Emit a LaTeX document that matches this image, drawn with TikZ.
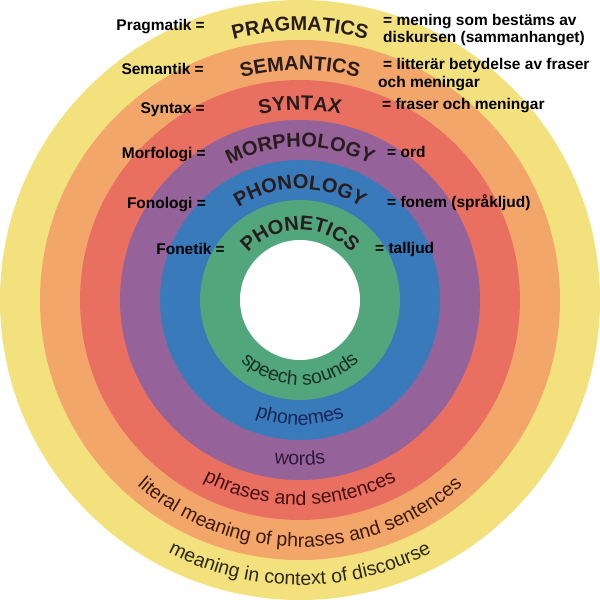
\documentclass[tikz,border=0pt]{standalone}
\usepackage{fontspec}
\setmainfont{Liberation Sans}
\usetikzlibrary{decorations.text}
\definecolor{cyel}{RGB}{242,225,125}
\definecolor{cora}{RGB}{242,166,106}
\definecolor{cred}{RGB}{233,112,96}
\definecolor{cpur}{RGB}{149,99,153}
\definecolor{cblu}{RGB}{57,122,186}
\definecolor{cgre}{RGB}{82,166,124}
\definecolor{ctitle}{RGB}{40,28,30}
\definecolor{tgre}{RGB}{25,50,35}
\definecolor{tblu}{RGB}{25,38,85}
\definecolor{tpur}{RGB}{45,24,56}
\definecolor{tred}{RGB}{70,14,16}
\definecolor{tora}{RGB}{60,26,12}
\definecolor{tyel}{RGB}{46,40,24}
\newcommand\myTopArc[2]{%
  \path[decorate, decoration={text along path, text align=center,
    text color=ctitle,
    text={|\fontsize{20}{20}\selectfont\bfseries|#2}}]
    (160:#1) arc (160:20:#1);}
\newcommand\myBotArc[3]{%
  \path[decorate, decoration={text along path, text align=center,
    text color=#3,
    text={|\fontsize{19.5}{19.5}\selectfont|#2}}]
    (200:#1) arc (200:340:#1);}
\begin{document}
\begin{tikzpicture}[x=1pt,y=1pt,
  lbl/.style={font=\fontsize{15.5}{17.4}\selectfont\bfseries, inner sep=0pt, text=black},
  lleft/.style={lbl, anchor=base east},
  lright/.style={lbl, anchor=base west}]
\useasboundingbox (-300,-300) rectangle (300,300);
% rings
\fill[cyel] (0,0) circle (300);
\fill[cora] (0,0) circle (260);
\fill[cred] (0,0) circle (220);
\fill[cpur] (0,0) circle (180);
\fill[cblu] (0,0) circle (140);
\fill[cgre] (0,0) circle (100);
\fill[white] (0,0) circle (60);
% ring titles
\myTopArc{269}{PRAGMATICS}
\myTopArc{230}{SEMANTICS}
\myTopArc{190}{SYNTAX}
\myTopArc{153}{MORPHOLOGY}
\myTopArc{111}{PHONOLOGY}
\myTopArc{70}{PHONETICS}
% bottom labels
\myBotArc{85}{speech sounds}{tgre}
\myBotArc{125}{phonemes}{tblu}
\myBotArc{165}{words}{tpur}
\myBotArc{205}{phrases and sentences}{tred}
\myBotArc{247}{literal meaning of phrases and sentences}{tora}
\myBotArc{285}{meaning in context of discourse}{tyel}
% left labels
\node[lleft] (lpr) at (-95,269.3) {Pragmatik =};
\node[lleft] (lse) at (-96,225) {Semantik =};
\node[lleft] (lsy) at (-95,186) {Syntax =};
\node[lleft] (lmo) at (-94,141.7) {Morfologi =};
\node[lleft] (lfo) at (-94,91.7) {Fonologi =};
\node[lleft] (lft) at (-75,45.7) {Fonetik =};
% right labels
\node[lright] (rpr1) at (83,274.7) {= mening som bestäms av};
\node[lright] (rpr2) at (83,257.3) {diskursen (sammanhanget)};
\node[lright] (rse1) at (83,230) {= litterär betydelse av fraser};
\node[lright] (rse2) at (78,212.7) {och meningar};
\node[lright] (rsy) at (82,190) {= fraser och meningar};
\node[lright] (rmo) at (87,142.7) {= ord};
\node[lright] (rfo) at (87,92.7) {= fonem (språkljud)};
\node[lright] (rft) at (75,46.7) {= talljud};
\end{tikzpicture}
\end{document}
